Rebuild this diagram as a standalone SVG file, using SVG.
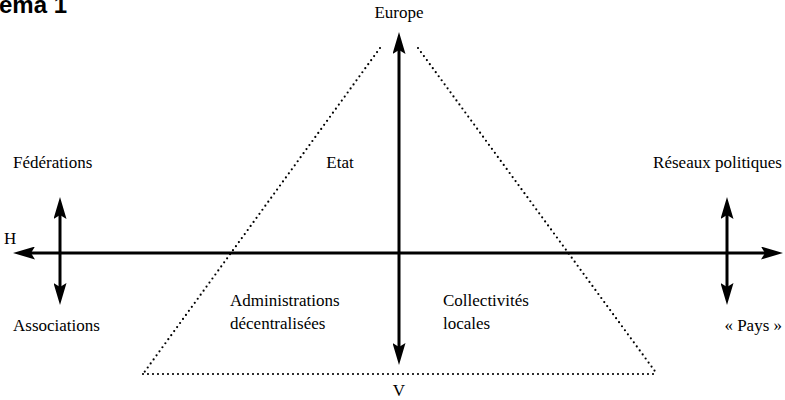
<svg xmlns="http://www.w3.org/2000/svg" width="785" height="400" viewBox="0 0 785 400">
  <style>
    .lbl { font-family: "Liberation Serif", "Times New Roman", serif; font-size: 17px; fill: #000; }
    .title { font-family: "Liberation Sans", Arial, sans-serif; font-size: 24px; font-weight: bold; fill: #000; }
    .axis { stroke: #000; stroke-width: 3; fill: none; marker-start: url(#ah); marker-end: url(#ah); }
    .dot { stroke: #000; stroke-width: 2.2; stroke-linecap: round; stroke-dasharray: 0 5; fill: none; }
  </style>
  <defs>
    <marker id="ah" viewBox="0 0 22 13" refX="12" refY="6.5" markerWidth="22" markerHeight="13" markerUnits="userSpaceOnUse" orient="auto-start-reverse">
      <path d="M0,0 L22,6.5 L0,13 L4,6.5 Z" fill="#000"/>
    </marker>
  </defs>
  <rect width="785" height="400" fill="#fff"/>
  <text class="title" x="-1" y="13">ema 1</text>

  <g id="triangle">
    <line class="dot" x1="380" y1="48" x2="143" y2="374"/>
    <line class="dot" x1="418" y1="48" x2="657" y2="374"/>
    <line class="dot" x1="143" y1="374" x2="657" y2="374"/>
  </g>

  <g id="connectors">
    <line class="axis" x1="399" y1="42" x2="399" y2="355"/>
    <line class="axis" x1="23" y1="253" x2="773" y2="253"/>
    <line class="axis" x1="60" y1="207" x2="60" y2="295"/>
    <line class="axis" x1="727" y1="207" x2="727" y2="295"/>
  </g>

  <g id="europe"><text class="lbl" x="399" y="18" text-anchor="middle">Europe</text></g>
  <g id="v"><text class="lbl" x="399" y="396" text-anchor="middle">V</text></g>
  <g id="h"><text class="lbl" x="4" y="244">H</text></g>
  <g id="federations"><text class="lbl" x="13" y="168">Fédérations</text></g>
  <g id="associations"><text class="lbl" x="13" y="331">Associations</text></g>
  <g id="reseaux"><text class="lbl" x="782" y="168" text-anchor="end">Réseaux politiques</text></g>
  <g id="pays"><text class="lbl" x="782" y="331" text-anchor="end">« Pays »</text></g>
  <g id="etat"><text class="lbl" x="340" y="168" text-anchor="middle">Etat</text></g>
  <g id="administrations">
    <text class="lbl" x="230" y="306">Administrations</text>
    <text class="lbl" x="230" y="329">décentralisées</text>
  </g>
  <g id="collectivites">
    <text class="lbl" x="443" y="306">Collectivités</text>
    <text class="lbl" x="443" y="329">locales</text>
  </g>
</svg>
